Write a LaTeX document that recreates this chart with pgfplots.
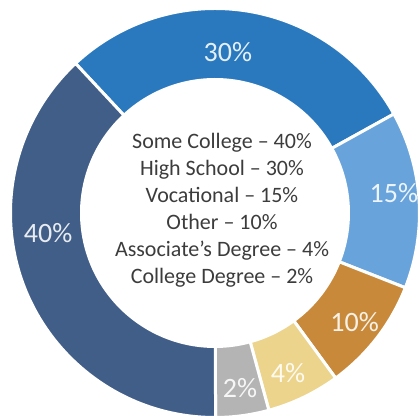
\documentclass[border=0pt]{standalone}
\usepackage{fontspec}
\setmainfont{Carlito}
\usepackage{pgfplots}
\usepackage{pgfplotstable}
\pgfplotsset{compat=1.18}

\definecolor{c0}{HTML}{2A79BF}
\definecolor{c1}{HTML}{68A4DB}
\definecolor{c2}{HTML}{C88A3A}
\definecolor{c3}{HTML}{EDD48C}
\definecolor{c4}{HTML}{B4B4B4}
\definecolor{c5}{HTML}{405E87}
\definecolor{txt}{HTML}{3C3C3C}

% share = slice size as drawn (percent of circle), label = printed value
% la/lr = label angle (deg) and radius (px, 1px = 0.5pt)
\pgfplotstableread{
x y id label share la lr
0 0 0 30 28.9 85.4 161.5
0 0 1 15 14.0 6.4 180
0 0 2 10 9.0 -37.9 177
0 0 3 4 5.8 -65.5 176
0 0 4 2 4.2 -81.9 177
0 0 5 40 38.1 186.8 168
}\slices
\pgfplotstablecreatecol[create col/expr accum={\pgfmathaccuma + \thisrow{share}}{0}]{cum}{\slices}

\begin{document}
\begin{tikzpicture}
\useasboundingbox (-107.5pt,-101.5pt) rectangle (102pt,106.5pt);
\begin{axis}[
    hide axis, scale only axis,
    width=10pt, height=10pt,
    xmin=-1, xmax=1, ymin=-1, ymax=1,
    clip=false, at={(0,0)}, anchor=center,
]
\addplot[
    scatter, only marks, mark=*, mark size=0.1pt,
    point meta=\thisrow{share},
    visualization depends on={133-3.6*(\thisrow{cum}-\thisrow{share}) \as \astart},
    visualization depends on={133-3.6*\thisrow{cum} \as \aend},
    visualization depends on={\thisrow{la} \as \lang},
    visualization depends on={0.5*\thisrow{lr} \as \lrad},
    visualization depends on={\thisrow{id} \as \idx},
    visualization depends on={\thisrow{label} \as \lbl},
    scatter/@pre marker code/.code={%
        \pgfmathtruncatemacro\i{\idx}%
        \pgfmathtruncatemacro\l{\lbl}%
        \fill[c\i, draw=white, line width=1.5pt]
            (\astart:102.25pt) arc[start angle=\astart, end angle=\aend, radius=102.25pt]
            -- (\aend:66.75pt) arc[start angle=\aend, end angle=\astart, radius=66.75pt] -- cycle;
        \node[text=c\i!12!white, font=\fontsize{14}{16}\selectfont, inner sep=0pt]
            at (\lang:\lrad pt) {\l\%};
        \begin{scope}[opacity=0]
    },
    scatter/@post marker code/.code={\end{scope}},
] table[x=x, y=y] {\slices};

\node[align=center, text=txt, font=\fontsize{11}{13.5}\selectfont, xshift=3.5pt, yshift=1.5pt]
    at (axis cs:0,0) {Some College -- 40\%\\High School -- 30\%\\Vocational -- 15\%\\Other -- 10\%\\Associate’s Degree -- 4\%\\College Degree -- 2\%};
\end{axis}
\end{tikzpicture}
\end{document}
